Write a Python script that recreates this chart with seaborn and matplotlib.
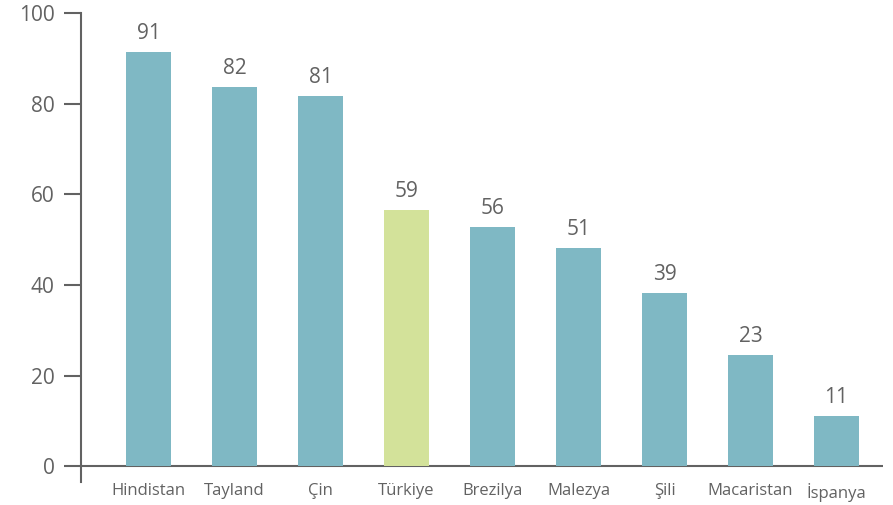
import pandas as pd
import matplotlib
matplotlib.use('Agg')
import matplotlib.pyplot as plt
import seaborn as sns

countries = ['Hindistan', 'Tayland', 'Çin', 'Türkiye', 'Brezilya',
             'Malezya', 'Şili', 'Macaristan', 'İspanya']
# bar heights as drawn in the picture
heights = [91.3, 83.6, 81.6, 56.5, 52.7, 48.2, 38.2, 24.5, 11.0]
# value labels printed above the bars
value_labels = ['91', '82', '81', '59', '56', '51', '39', '23', '11']
highlight = 'Türkiye'

df = pd.DataFrame({'country': countries, 'value': heights})

sns.set_theme(style='white')
plt.rcParams['font.family'] = ['Open Sans', 'DejaVu Sans']

gray = '#626262'
blue = '#7fb8c4'
green = '#d3e29a'
palette = {c: (green if c == highlight else blue) for c in countries}

fig = plt.figure(figsize=(8.93, 5.05), dpi=100)
ax = fig.add_axes([81 / 893, 23 / 505, 802 / 893, 469 / 505])

sns.barplot(data=df, x='country', y='value', hue='country', palette=palette,
            order=countries, width=0.523, legend=False, saturation=1,
            linewidth=0, ax=ax)

for patch, txt in zip(ax.patches, value_labels):
    ax.annotate(txt, (patch.get_x() + patch.get_width() / 2, patch.get_height()),
                xytext=(0, 9.5), textcoords='offset points', ha='center', va='baseline',
                fontsize=15, color=gray)

ax.set_xlim(-0.785, 8.54)
ax.set_ylim(-3.5, 100)
ax.set_yticks([0, 20, 40, 60, 80, 100])
ax.axhline(0, color=gray, lw=1.5, zorder=0)

for s in ['top', 'right', 'bottom']:
    ax.spines[s].set_visible(False)
ax.spines['left'].set_color(gray)
ax.spines['left'].set_linewidth(1.5)

ax.tick_params(axis='y', direction='out', length=12, width=1.5, color=gray,
               labelsize=15, labelcolor=gray, pad=7, left=True)
ax.tick_params(axis='x', length=0, labelsize=12, labelcolor=gray, pad=1)
ax.set_xlabel('')
ax.set_ylabel('')

fig.savefig('out.png', dpi=100)
